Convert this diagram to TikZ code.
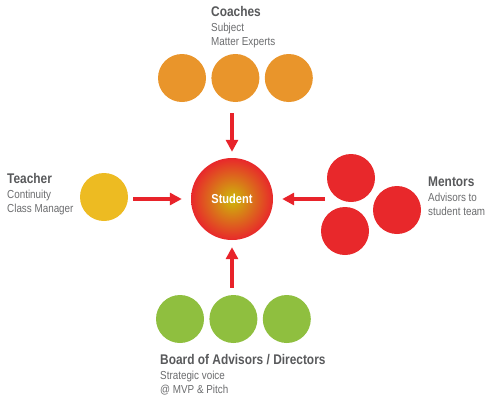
\documentclass[tikz,border=0pt]{standalone}
\usepackage{fontspec}
\setmainfont{Liberation Sans}[FakeStretch=0.85]
\usetikzlibrary{arrows.meta,positioning}

\definecolor{coachorange}{HTML}{E9952B}
\definecolor{teachyellow}{HTML}{EDBB22}
\definecolor{mentorred}{HTML}{E8282B}
\definecolor{boardgreen}{HTML}{8FBF3F}
\definecolor{arrowred}{HTML}{E8232A}
\definecolor{labelgray}{HTML}{6B6C6E}
\definecolor{headgray}{HTML}{58595B}

\begin{document}
\begin{tikzpicture}
  [
  x=1pt, y=-1pt,
  dot/.style={circle, minimum size=48pt, inner sep=0pt},
  lbl/.style={align=left, anchor=base west, inner sep=0pt, text=labelgray, font=\fontsize{11.6}{14}\selectfont},
  arr/.style={draw=arrowred, line width=4pt, -{Triangle[length=12pt,width=12pt]}},
  node distance=5pt
  ]
  \useasboundingbox (0,0) rectangle (500,408);

  % student in the middle
  \node[circle, minimum size=82pt, inner sep=0pt, inner color={rgb,255:red,205;green,186;blue,10}, outer color=mentorred,
        text=white, font=\fontsize{13}{13}\selectfont\bfseries] (student) at (232,199) {Student};

  % coaches
  \node[dot, fill=coachorange] (c1) at (182,78) {};
  \node[dot, fill=coachorange, right=of c1] (c2) {};
  \node[dot, fill=coachorange, right=of c2] (c3) {};
  \node[lbl] (coachlbl) at (211,45) {{\fontsize{14}{14}\selectfont\bfseries\color{headgray}Coaches}\\[1pt]Subject\\Matter Experts};

  % teacher
  \node[dot, fill=teachyellow] (teacher) at (104,197) {};
  \node[lbl] (teachlbl) at (7,212) {{\fontsize{14}{14}\selectfont\bfseries\color{headgray}Teacher}\\[1pt]Continuity\\Class Manager};

  % mentors
  \node[dot, fill=mentorred] (m1) at (351,178) {};
  \node[dot, fill=mentorred] (m2) at (397,210) {};
  \node[dot, fill=mentorred] (m3) at (345,231) {};
  \coordinate (mfrom) at (325,199);
  \node[lbl] (mentorlbl) at (428,215) {{\fontsize{14}{14}\selectfont\bfseries\color{headgray}Mentors}\\[1pt]Advisors to\\student team};

  % board
  \node[dot, fill=boardgreen] (b1) at (180,319) {};
  \node[dot, fill=boardgreen, right=of b1] (b2) {};
  \node[dot, fill=boardgreen, right=of b2] (b3) {};
  \node[lbl] (boardlbl) at (160,393) {{\fontsize{14}{14}\selectfont\bfseries\color{headgray}Board of Advisors / Directors}\\[1pt]Strategic voice\\@ MVP \& Pitch};

  % arrows
  \draw[arr, shorten <=11pt, shorten >=6pt] (student |- c2.south) -- (student.north);
  \draw[arr, shorten <=5pt, shorten >=9pt] (teacher.east |- student) -- (student.west);
  \draw[arr, shorten >=9pt] (mfrom) -- (student.east);
  \draw[arr, shorten <=7pt, shorten >=7pt] (student |- b2.north) -- (student.south);
\end{tikzpicture}
\end{document}
